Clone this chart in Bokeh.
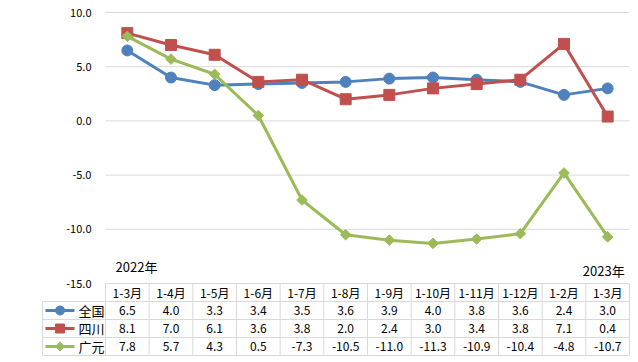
import math
from bokeh.plotting import figure
from bokeh.models import Range1d, FixedTicker, ColumnDataSource, PrintfTickFormatter
from bokeh.core.properties import value
from bokeh.embed import file_html
from bokeh.resources import INLINE

# ---- data ----
periods = ["1-3月", "1-4月", "1-5月", "1-6月", "1-7月", "1-8月", "1-9月",
           "1-10月", "1-11月", "1-12月", "1-2月", "1-3月"]
series_names = ["全国", "四川", "广元"]
national = [6.5, 4.0, 3.3, 3.4, 3.5, 3.6, 3.9, 4.0, 3.8, 3.6, 2.4, 3.0]
sichuan = [8.1, 7.0, 6.1, 3.6, 3.8, 2.0, 2.4, 3.0, 3.4, 3.8, 7.1, 0.4]
guangyuan = [7.8, 5.7, 4.3, 0.5, -7.3, -10.5, -11.0, -11.3, -10.9, -10.4, -4.8, -10.7]
y_ticks = [-15.0, -10.0, -5.0, 0.0, 5.0, 10.0]
year_labels = ["2022年", "2023年"]

colors = ["#4F81BD", "#C0504D", "#9BBB59"]
markers = ["circle", "square", "square"]
angles = [0, 0, math.pi / 4]
msizes = [11, 11, 7.5]
lsizes = [9, 9, 6.5]
FONT = "Noto Sans CJK SC"
GRID = "#D9D9D9"

n = len(periods)
xs = [i + 0.5 for i in range(n)]
values = [national, sichuan, guangyuan]

PX = 43.675            # px per column
LEFT_BORDER = -63 / PX
X_START = LEFT_BORDER - 1 / PX
X_END = n + 1 / PX

H = 356
PY = 271 / 25.0        # px per % unit
Y_TOP = 10 + 12 / PY
Y_BOT = -15 - (H - 283) / PY
RY = 18.0              # px per table row
T_TOP = 4 + 283 / RY
T_BOT = -1 / RY

p = figure(width=630, height=H, output_backend="svg", toolbar_location=None,
           x_range=Range1d(X_START, X_END), y_range=Range1d(Y_BOT, Y_TOP),
           min_border_left=41, min_border_right=0, min_border_top=0, min_border_bottom=0)
p.extra_y_ranges = {"tab": Range1d(T_BOT, T_TOP)}
p.outline_line_color = None
p.xaxis.visible = False
p.grid.visible = False

ya = p.yaxis[0]
ya.fixed_location = 0
ya.ticker = FixedTicker(ticks=y_ticks)
ya.formatter = PrintfTickFormatter(format="%.1f")
ya.axis_line_color = None
ya.major_tick_line_color = None
ya.minor_tick_line_color = None
ya.major_label_standoff = 8
ya.major_label_text_font = FONT
ya.major_label_text_font_size = "11px"
ya.major_label_text_color = "#000000"
ya.axis_label = "%"
ya.axis_label_text_font = FONT
ya.axis_label_text_font_size = "11px"
ya.axis_label_text_font_style = "normal"
ya.axis_label_text_color = "#000000"
ya.axis_label_standoff = 28

# horizontal gridlines across the plot area only
p.segment(x0=[0] * len(y_ticks), y0=y_ticks, x1=[n] * len(y_ticks), y1=y_ticks,
          line_color=GRID, line_width=1)

for vals, c, m, a, s in zip(values, colors, markers, angles, msizes):
    src = ColumnDataSource(dict(x=xs, y=vals))
    p.line("x", "y", source=src, line_color=c, line_width=3)
    p.scatter("x", "y", source=src, marker=m, angle=a, size=s, fill_color=c, line_color=c)

p.text(x=[0.23], y=[-13.43], text=[year_labels[0]], text_font=value(FONT),
       text_font_size="13px", text_align="left", text_baseline="middle", text_color="#000000")
p.text(x=[11.89], y=[-13.8], text=[year_labels[1]], text_font=value(FONT),
       text_font_size="13px", text_align="right", text_baseline="middle", text_color="#000000")

# ---- data table (own y range) ----
T = "tab"
hy = [0, 1, 2, 3]
p.segment(x0=[LEFT_BORDER] * 4, y0=hy, x1=[n] * 4, y1=hy, line_color=GRID, line_width=1,
          y_range_name=T)
vx = list(range(n + 1))
p.segment(x0=vx, y0=[0] * len(vx), x1=vx, y1=[4] * len(vx), line_color=GRID, line_width=1,
          y_range_name=T)
p.segment(x0=[LEFT_BORDER], y0=[0], x1=[LEFT_BORDER], y1=[3], line_color=GRID, line_width=1,
          y_range_name=T)

p.text(x=xs, y=[3.5] * n, text=periods, text_font=value(FONT), text_font_size="12px",
       text_align="center", text_baseline="middle", text_color="#000000", y_range_name=T)
for r, (vals, c, m, a, s, name) in enumerate(zip(values, colors, markers, angles, lsizes,
                                                 series_names)):
    yrow = 2.5 - r
    p.text(x=xs, y=[yrow] * n, text=["%.1f" % v for v in vals], text_font=value(FONT),
           text_font_size="12px", text_align="center", text_baseline="middle",
           text_color="#000000", y_range_name=T)
    p.segment(x0=[-1.374], y0=[yrow], x1=[-0.71], y1=[yrow], line_color=c, line_width=3,
              y_range_name=T)
    p.scatter(x=[-1.04], y=[yrow], marker=m, angle=a, size=s, fill_color=c, line_color=c,
              y_range_name=T)
    p.text(x=[-0.62], y=[yrow], text=[name], text_font=value(FONT), text_font_size="13px",
           text_align="left", text_baseline="middle", text_color="#000000", y_range_name=T)

open("out.html", "w").write(file_html(p, INLINE))
